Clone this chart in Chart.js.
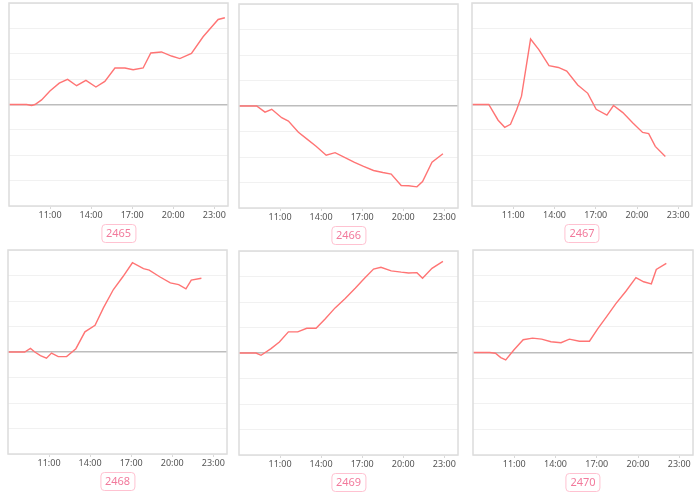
<!DOCTYPE html>
<html>
<head>
<meta charset="utf-8">
<script src="https://cdn.jsdelivr.net/npm/chart.js@4"></script>
<style>
    html, body { margin: 0; padding: 0; background: #fff; }
    body { width: 700px; height: 497px; position: relative; overflow: hidden; font-family: "Noto Sans", Lato, sans-serif; }
    .panel { position: absolute; }
    .tag {
        position: absolute; box-sizing: border-box; height: 19px; padding: 0 4px;
        border: 1.5px solid #ffc2d1; border-radius: 4px; color: #f27a9c;
        font-size: 11px; line-height: 16px; transform: translateX(-50%);
    }
</style>
</head>
<body>
<script>
'use strict';

// ── Data (hour of day -> change)
const TICK_HOURS = [11, 14, 17, 20, 23];
const CODES = ['2465', '2466', '2467', '2468', '2469', '2470'];

const hours2465 = [8, 9.29, 9.65, 9.9, 10.38, 10.99, 11.67, 12.28, 12.94, 13.62, 14.35, 15.0, 15.74, 16.47, 17.07, 17.8, 18.36, 19.14, 19.87, 20.48, 21.33, 22.18, 23.28, 23.77];
const values2465 = [0, 0, -0.04, 0, 0.18, 0.53, 0.84, 0.99, 0.74, 0.95, 0.69, 0.91, 1.44, 1.44, 1.37, 1.44, 2.03, 2.07, 1.91, 1.81, 2.01, 2.67, 3.35, 3.42];

const hours2466 = [8, 9.29, 9.9, 10.39, 11.12, 11.61, 12.34, 12.95, 13.63, 14.37, 15.02, 15.71, 16.44, 17.1, 17.83, 18.51, 19.12, 19.85, 20.39, 21.0, 21.41, 22.1, 22.9];
const values2466 = [0, 0, -0.24, -0.13, -0.46, -0.59, -1.03, -1.29, -1.58, -1.93, -1.83, -2.01, -2.21, -2.37, -2.53, -2.61, -2.67, -3.12, -3.13, -3.17, -2.96, -2.2, -1.87];

const hours2467 = [8, 9.22, 9.9, 10.38, 10.8, 11.24, 11.6, 12.26, 12.86, 13.6, 14.28, 14.89, 15.69, 16.42, 17.03, 17.81, 18.29, 18.97, 19.7, 20.41, 20.85, 21.33, 22.06];
const values2467 = [0, 0, -0.62, -0.9, -0.78, -0.22, 0.33, 2.58, 2.16, 1.53, 1.46, 1.32, 0.77, 0.44, -0.19, -0.42, -0.04, -0.32, -0.73, -1.1, -1.15, -1.65, -2.05];

const hours2468 = [8, 9.22, 9.64, 9.96, 10.37, 10.81, 11.18, 11.67, 12.28, 12.96, 13.62, 14.36, 14.97, 15.7, 16.39, 17.09, 17.9, 18.32, 19.08, 19.86, 20.47, 21.0, 21.39, 22.13];
const values2468 = [0, 0, 0.14, 0, -0.14, -0.24, -0.04, -0.18, -0.18, 0.13, 0.79, 1.05, 1.73, 2.45, 2.95, 3.5, 3.27, 3.21, 2.95, 2.71, 2.64, 2.48, 2.82, 2.89];

const hours2469 = [8, 9.24, 9.61, 10.34, 10.95, 11.61, 12.29, 12.95, 13.63, 14.29, 15.02, 15.76, 16.49, 17.17, 17.83, 18.37, 19.12, 19.85, 20.39, 21.0, 21.41, 22.1, 22.9];
const values2469 = [0, 0, -0.09, 0.17, 0.43, 0.83, 0.83, 0.97, 0.97, 1.33, 1.77, 2.14, 2.54, 2.93, 3.29, 3.36, 3.22, 3.17, 3.14, 3.15, 2.93, 3.32, 3.59];

const hours2470 = [8, 9.22, 9.63, 10.02, 10.38, 10.97, 11.65, 12.33, 12.99, 13.67, 14.4, 15.01, 15.74, 16.47, 17.08, 17.73, 18.39, 19.12, 19.85, 20.41, 20.97, 21.33, 22.06];
const values2470 = [0, 0, -0.03, -0.2, -0.29, 0.1, 0.5, 0.56, 0.52, 0.42, 0.38, 0.52, 0.44, 0.44, 0.93, 1.41, 1.91, 2.39, 2.92, 2.76, 2.68, 3.24, 3.48];

const SERIES = [
    [hours2465, values2465], [hours2466, values2466], [hours2467, values2467],
    [hours2468, values2468], [hours2469, values2469], [hours2470, values2470]
];

// plot box of each panel: left, top, width, height
const BOXES = [
    [9, 3, 219, 202], [239, 4, 219, 203], [472, 3, 220, 202],
    [8, 250, 219, 203], [239, 251, 219, 203], [473, 250, 220, 204]
];

// ── full border round the plot area
const frameBox = {
    id: 'frameBox',
    afterDraw(chart) {
        const { ctx, chartArea: a } = chart;
        ctx.save();
        ctx.strokeStyle = '#dcdcdc';
        ctx.lineWidth = 1.5;
        ctx.strokeRect(a.left, a.top, a.right - a.left, a.bottom - a.top);
        ctx.restore();
    }
};

function renderPanel(i) {
    const [left, top, w, h] = BOXES[i];
    const [hours, values] = SERIES[i];

    const wrap = document.createElement('div');
    wrap.className = 'panel';
    wrap.style.left = (left - 1) + 'px';
    wrap.style.top = (top - 1) + 'px';
    wrap.style.width = (w + 2) + 'px';
    wrap.style.height = (h + 2 + 20) + 'px';
    const canvas = document.createElement('canvas');
    wrap.appendChild(canvas);
    document.body.appendChild(wrap);

    const tag = document.createElement('div');
    tag.className = 'tag';
    tag.textContent = CODES[i];
    tag.style.left = (left + w / 2) + 'px';
    tag.style.top = (top + h + 19) + 'px';
    document.body.appendChild(tag);

    new Chart(canvas, {
        type: 'line',
        data: {
            datasets: [{
                data: hours.map((x, k) => ({ x, y: values[k] })),
                borderColor: '#ff7474',
                borderWidth: 1.4,
                pointRadius: 0,
                tension: 0
            }]
        },
        options: {
            responsive: true,
            maintainAspectRatio: false,
            animation: false,
            layout: { padding: { left: 1, right: 1, top: 1, bottom: 0 } },
            plugins: { legend: { display: false }, tooltip: { enabled: false } },
            scales: {
                x: {
                    type: 'linear', min: 8, max: 24,
                    afterBuildTicks: s => { s.ticks = TICK_HOURS.map(v => ({ value: v })); },
                    afterFit: s => { s.height = 20; },
                    grid: { drawOnChartArea: false, color: '#d8d8d8', tickLength: 3 },
                    border: { display: false },
                    ticks: {
                        padding: 1,
                        color: '#555',
                        font: { size: 9, family: '"Noto Sans", Lato, sans-serif' },
                        callback: v => v + ':00',
                        maxRotation: 0
                    }
                },
                y: {
                    min: -4, max: 4,
                    afterFit: s => { s.width = 0; },
                    ticks: { display: false, stepSize: 1 },
                    border: { display: false },
                    grid: {
                        drawTicks: false,
                        color: c => c.tick && c.tick.value === 0 ? '#bdbdbd' : '#f1f1f1',
                        lineWidth: c => c.tick && c.tick.value === 0 ? 1.5 : 1
                    }
                }
            }
        },
        plugins: [frameBox]
    });
}

document.addEventListener('DOMContentLoaded', () => {
    for (let i = 0; i < 6; i++) renderPanel(i);
});
</script>
</body>
</html>
